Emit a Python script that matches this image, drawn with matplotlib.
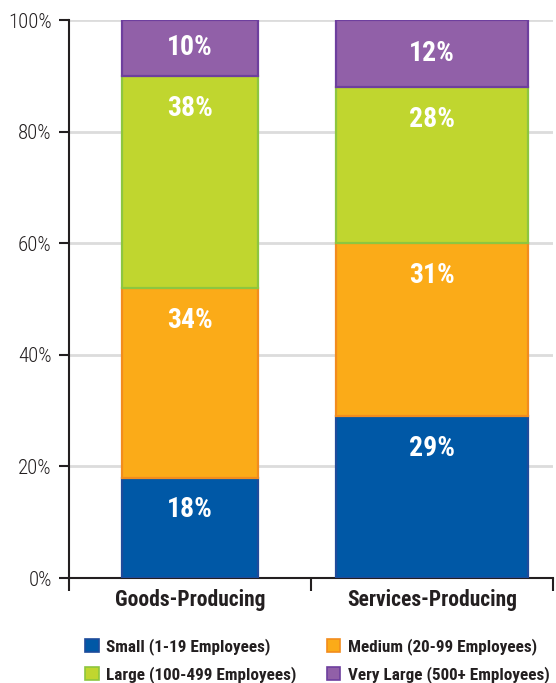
import matplotlib
matplotlib.use("Agg")
import matplotlib.pyplot as plt
from matplotlib import font_manager as fm
from matplotlib.patches import Patch
import numpy as np

# ---- data -------------------------------------------------------------
categories = ["Goods-Producing", "Services-Producing"]
series_names = [
    "Small (1-19 Employees)",
    "Medium (20-99 Employees)",
    "Large (100-499 Employees)",
    "Very Large (500+ Employees)",
]
small = [18, 29]
medium = [34, 31]
large = [38, 28]
very_large = [10, 12]
y_ticks = [0, 20, 40, 60, 80, 100]

# ---- style ------------------------------------------------------------
fills = ["#0058A6", "#FBAB18", "#C0D62F", "#9160A8"]
edges = ["#1E4B9B", "#F28C1E", "#8DC63F", "#6E3F9E"]
bar_widths = [0.56, 0.79]
TEXT = "#231F20"


def pick_condensed():
    entries = fm.fontManager.ttflist
    names = {f.name for f in entries}
    for n in ["Roboto Condensed", "Liberation Sans Narrow", "Open Sans Condensed",
              "Noto Sans Condensed", "DejaVu Sans Condensed"]:
        if n in names:
            return n, "normal"
    for fam in ["Roboto", "Open Sans", "Noto Sans", "DejaVu Sans", "Lato", "Inter"]:
        for f in entries:
            if f.name == fam and str(f.stretch) in ("condensed", "semi-condensed",
                                                    "extra-condensed", "75", "87.5"):
                return fam, "condensed"
    return "DejaVu Sans", "normal"


FAM, STRETCH = pick_condensed()
plt.rcParams["font.family"] = [FAM, "DejaVu Sans"]
plt.rcParams["font.stretch"] = STRETCH

fig = plt.figure(figsize=(5.56, 6.83), dpi=100)
W, H = 556, 683
ax = fig.add_axes([69 / W, 1 - 578 / H, (553 - 69) / W, (578 - 20) / H])

x = np.arange(len(categories))
stack = [small, medium, large, very_large]
bottom = np.zeros(len(categories))
for vals, fc, ec in zip(stack, fills, edges):
    vals = np.array(vals, dtype=float)
    ax.bar(x, vals, bottom=bottom, width=bar_widths, color=fc, edgecolor=ec,
           linewidth=1.6, zorder=3)
    for xi, v, b in zip(x, vals, bottom):
        top = b + v
        ty = b + v / 2 if v <= 12 else top - 5.8
        ax.text(xi, ty, f"{int(v)}%", ha="center", va="center", color="white",
                fontsize=20, fontweight="bold", zorder=4)
    bottom = bottom + vals

ax.set_xlim(-0.5, 1.5)
ax.set_ylim(0, 100)

# gridlines
ax.set_yticks(y_ticks)
ax.set_yticklabels([f"{t}%" for t in y_ticks], fontsize=15, fontweight="light",
                   color=TEXT)
ax.yaxis.grid(True, color="#DCDCDC", linewidth=2, zorder=0)
ax.set_axisbelow(True)
ax.tick_params(axis="y", direction="out", length=7.5, width=1.5, color=TEXT, pad=5)

# category axis: boundary ticks, labels in between
ax.set_xticks([-0.5, 0.5, 1.5])
ax.set_xticklabels([])
ax.set_xticks(x, minor=True)
ax.set_xticklabels(categories, minor=True, fontsize=15.5, fontweight="bold", color=TEXT)
ax.tick_params(axis="x", which="major", direction="out", length=9.5, width=1.5, color=TEXT)
ax.tick_params(axis="x", which="minor", length=0, pad=8)

for s in ["top", "right"]:
    ax.spines[s].set_visible(False)
for s in ["left", "bottom"]:
    ax.spines[s].set_color(TEXT)
    ax.spines[s].set_linewidth(1.5)

handles = [Patch(facecolor=fc, edgecolor=ec, linewidth=1.2) for fc, ec in zip(fills, edges)]
order = [0, 2, 1, 3]
fig.legend([handles[i] for i in order], [series_names[i] for i in order],
           ncol=2, loc="upper left", bbox_to_anchor=(85 / W, 1 - 638 / H),
           frameon=False, handlelength=0.8, handleheight=0.8,
           handletextpad=0.45, columnspacing=1.75, labelspacing=0.65,
           borderaxespad=0, borderpad=0,
           prop={"weight": "bold", "size": 12.3})
for t in fig.legends[0].get_texts():
    t.set_color(TEXT)

fig.savefig("out.png", dpi=100)
